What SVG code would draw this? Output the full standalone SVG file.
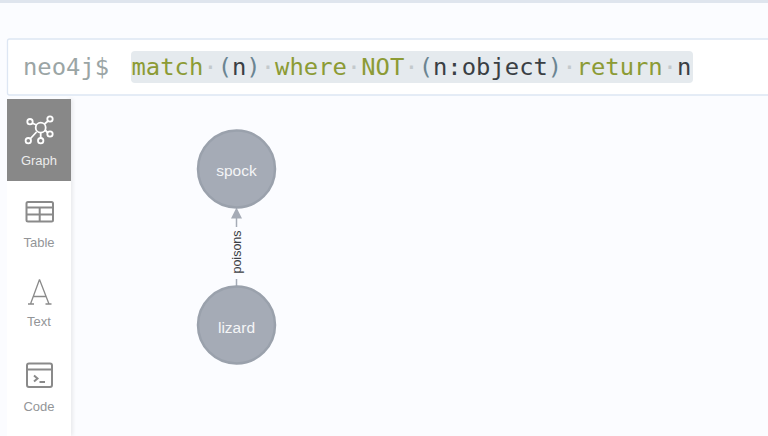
<svg xmlns="http://www.w3.org/2000/svg" width="768" height="436" viewBox="0 0 768 436">
<style>
.ui{font-family:"Liberation Sans",Arial,sans-serif}
.mono{font-family:"DejaVu Sans Mono","Liberation Mono",monospace;font-size:23.85px}
.k{fill:#8c9b35}.d{fill:#c3c9cc}.p{fill:#6b8592}.t{fill:#3a3f44}
.tab{font-size:13px;fill:#939598;text-anchor:middle}
.ic{fill:none;stroke:#8a8a8a;stroke-width:2}
.node circle{fill:#a5abb6;stroke:#9aa1ac;stroke-width:2.500}
.node text{font-size:15.500px;fill:#f4f5f7;text-anchor:middle}
</style>
<defs><filter id="sh" x="-200%" y="-5%" width="500%" height="110%"><feGaussianBlur stdDeviation="2"/></filter></defs>
<rect width="768" height="436" fill="#fbfcff"/>
<rect width="768" height="3" fill="#dfe5ee"/>
<g id="editor">
<rect x="7.500" y="39" width="770" height="56" fill="#fff" stroke="#dde6f3" stroke-width="1.300" rx="2"/>
<rect x="131" y="51" width="562" height="32" rx="4" fill="#e5eaee"/>
<text class="mono" x="23" y="75" fill="#9ba5a5">neo4j$</text>
<text class="mono" x="131.500" y="75"><tspan class="k">match</tspan><tspan class="d">·</tspan><tspan class="p">(</tspan><tspan class="t">n</tspan><tspan class="p">)</tspan><tspan class="d">·</tspan><tspan class="k">where</tspan><tspan class="d">·</tspan><tspan class="k">NOT</tspan><tspan class="d">·</tspan><tspan class="p">(</tspan><tspan class="t">n:object</tspan><tspan class="p">)</tspan><tspan class="d">·</tspan><tspan class="k">return</tspan><tspan class="d">·</tspan><tspan class="t">n</tspan></text>
</g>
<g id="sidebar">
<rect x="69" y="99" width="3" height="337" fill="#000" opacity=".12" filter="url(#sh)"/>
<rect x="7" y="99" width="64" height="337" fill="#fff"/>
<rect x="7" y="99" width="64" height="82" fill="#888"/>
<g id="tab-graph" class="ui">
<g fill="none" stroke="#fff" stroke-width="1.800">
<path d="M36.500 125L32 123M44.500 124L48 121M45 130L47.500 132.500M36.500 132L30.500 138.500M40.700 133V138"/>
<circle cx="40.700" cy="127.700" r="5"/><circle cx="30" cy="121.700" r="2.700"/><circle cx="50" cy="119" r="2.700"/><circle cx="50" cy="134" r="2.700"/><circle cx="28.300" cy="140.700" r="2.700"/><circle cx="40.700" cy="140.700" r="2.700"/>
</g>
<text class="tab" x="39" y="165" style="fill:#ececec">Graph</text>
</g>
<g id="tab-table" class="ui">
<rect class="ic" x="26.500" y="202" width="26.500" height="19.500" rx="1.500"/>
<path class="ic" d="M26.500 207.500H53M26.500 214.500H53M39.700 207.500V221.500"/>
<text class="tab" x="39" y="247">Table</text>
</g>
<g id="tab-text" class="ui">
<path fill="none" stroke="#8a8a8a" stroke-width="1.300" d="M39.500 279.500L30.500 304M39.500 279.500L49 304M33 296.500H46.500M28 304H34M45.500 304H51.500"/>
<text class="tab" x="39" y="326">Text</text>
</g>
<g id="tab-code" class="ui">
<rect class="ic" x="27" y="363.500" width="25" height="23.500" rx="2"/>
<path class="ic" d="M27 369.500H52M34 375.500L37.500 378.500L34 381.500M39.500 382H45"/>
<text class="tab" x="39" y="411">Code</text>
</g>
</g>
<g id="connectors">
<path d="M236.500 216V227M236.500 279V287" stroke="#a5abb6" stroke-width="1.500" fill="none"/>
<path d="M236.500 207.500L242 218.500H231Z" fill="#a5abb6"/>
<text class="ui" transform="translate(241.300 252) rotate(-90)" text-anchor="middle" font-size="12.500" fill="#3c3f44">poisons</text>
</g>
<g id="node-spock" class="node ui"><circle cx="236.500" cy="169" r="38.500"/><text x="236.500" y="176">spock</text></g>
<g id="node-lizard" class="node ui"><circle cx="236.500" cy="325" r="38.500"/><text x="236.500" y="332.500">lizard</text></g>
</svg>
